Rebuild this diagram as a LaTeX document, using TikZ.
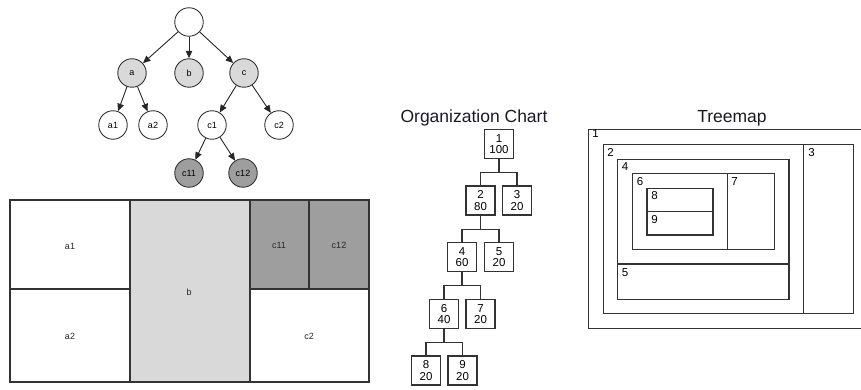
\documentclass[tikz,border=0pt]{standalone}
\usepackage{fontspec}
\setmainfont{Liberation Sans}
\usetikzlibrary{arrows.meta}

\definecolor{lightfill}{HTML}{D9D9D9}
\definecolor{darkfill}{HTML}{9E9E9E}
\definecolor{edgegray}{HTML}{333333}
\definecolor{inktext}{HTML}{1A1A22}

\begin{document}
\begin{tikzpicture}[x=1pt, y=-1pt,
		vert/.style={circle, draw=edgegray, line width=.9pt, minimum size=28.5pt, inner sep=0pt, font=\fontsize{9}{10}\selectfont},
		arc/.style={-{Triangle[length=7.5pt,width=6.5pt]}, line width=.9pt, draw=black!85},
		cell/.style={draw=edgegray, line width=1.1pt},
		celltext/.style={inner sep=0pt, font=\fontsize{9}{10}\selectfont, text=black!85},
		orgbox/.style={draw=edgegray, line width=1.3pt, minimum size=29pt, inner sep=0pt, align=center, font=\fontsize{11.5}{11.5}\selectfont},
		orgline/.style={draw=edgegray, line width=1.3pt},
		tmbox/.style={draw=edgegray, line width=1.3pt},
		tmlabel/.style={inner sep=0pt, font=\fontsize{11.5}{12}\selectfont},
		heading/.style={anchor=base, inner sep=0pt, font=\fontsize{17.5}{20}\selectfont, text=inktext}
	]
	\useasboundingbox (0,0) rectangle (861,390);

	% the tree
	\node[vert] (root) at (189,22) {};
	\node[vert, fill=lightfill] (a) at (132,73) {a};
	\node[vert, fill=lightfill] (b) at (189,73) {b};
	\node[vert, fill=lightfill] (c) at (244,73) {c};
	\node[vert] (a1) at (113,125) {a1};
	\node[vert] (a2) at (153,125) {a2};
	\node[vert] (c1) at (212,125) {c1};
	\node[vert] (c2) at (279,125) {c2};
	\node[vert, fill=darkfill] (c11) at (189,173) {c11};
	\node[vert, fill=darkfill] (c12) at (243,173) {c12};
	\draw[arc] (root) -- (a);
	\draw[arc] (root) -- (b);
	\draw[arc] (root) -- (c);
	\draw[arc] (a) -- (a1);
	\draw[arc] (a) -- (a2);
	\draw[arc] (c) -- (c1);
	\draw[arc] (c) -- (c2);
	\draw[arc] (c1) -- (c11);
	\draw[arc] (c1) -- (c12);

	% its treemap
	\fill[lightfill] (130,200) rectangle (250,382);
	\fill[darkfill] (250,200) rectangle (369,289);
	\draw[cell] (10,200) rectangle (369,382);
	\draw[cell] (130,200) -- (130,382);
	\draw[cell] (250,200) -- (250,382);
	\draw[cell] (10,289) -- (130,289);
	\draw[cell] (250,289) -- (369,289);
	\draw[cell] (309,200) -- (309,289);
	\node[celltext] (ta1) at (70,246) {a1};
	\node[celltext] (ta2) at (70,336) {a2};
	\node[celltext] (tb) at (189,292) {b};
	\node[celltext] (tc11) at (279,245) {c11};
	\node[celltext] (tc12) at (339,245) {c12};
	\node[celltext] (tc2) at (309,336) {c2};

	% organization chart
	\node[heading] (orgtitle) at (474,123) {Organization Chart};
	\node[orgbox] (o1) at (499,144) {1\\100};
	\node[orgbox] (o2) at (480.5,200.5) {2\\80};
	\node[orgbox] (o3) at (517,200.5) {3\\20};
	\node[orgbox] (o4) at (462,257) {4\\60};
	\node[orgbox] (o5) at (499,257) {5\\20};
	\node[orgbox] (o6) at (444,314) {6\\40};
	\node[orgbox] (o7) at (480.5,314) {7\\20};
	\node[orgbox] (o8) at (426,370.5) {8\\20};
	\node[orgbox] (o9) at (462.5,370.5) {9\\20};
	\draw[orgline] (o1.south) -- ++(0,13.5) -| (o2.north);
	\draw[orgline] (o1.south) -- ++(0,13.5) -| (o3.north);
	\draw[orgline] (o2.south) -- ++(0,13.5) -| (o4.north);
	\draw[orgline] (o2.south) -- ++(0,13.5) -| (o5.north);
	\draw[orgline] (o4.south) -- ++(0,13.5) -| (o6.north);
	\draw[orgline] (o4.south) -- ++(0,13.5) -| (o7.north);
	\draw[orgline] (o6.south) -- ++(0,13.5) -| (o8.north);
	\draw[orgline] (o6.south) -- ++(0,13.5) -| (o9.north);

	% nested treemap
	\node[heading] (maptitle) at (732,123) {Treemap};
	\draw[tmbox] (861,129.5) -- (588.5,129.5) -- (588.5,328.5) -- (861,328.5);
	\draw[tmbox] (603.5,144.5) rectangle (803.5,313.5);
	\draw[tmbox] (803.5,144.5) rectangle (853.5,313.5);
	\draw[tmbox] (617.5,159.5) rectangle (789,264);
	\draw[tmbox] (617.5,264) rectangle (789,299.5);
	\draw[tmbox] (632.5,173.5) rectangle (727.5,249.5);
	\draw[tmbox] (727.5,173.5) rectangle (774.5,249.5);
	\draw[tmbox] (647,188.5) rectangle (713,211.5);
	\draw[tmbox] (647,211.5) rectangle (713,235);
	\node[tmlabel] (m1) at (595.5,134) {1};
	\node[tmlabel] (m2) at (610.5,152) {2};
	\node[tmlabel] (m3) at (811.5,153) {3};
	\node[tmlabel] (m4) at (625,167) {4};
	\node[tmlabel] (m5) at (625,273) {5};
	\node[tmlabel] (m6) at (640,182) {6};
	\node[tmlabel] (m7) at (734.5,182) {7};
	\node[tmlabel] (m8) at (654.5,196) {8};
	\node[tmlabel] (m9) at (654.5,220) {9};
\end{tikzpicture}
\end{document}
